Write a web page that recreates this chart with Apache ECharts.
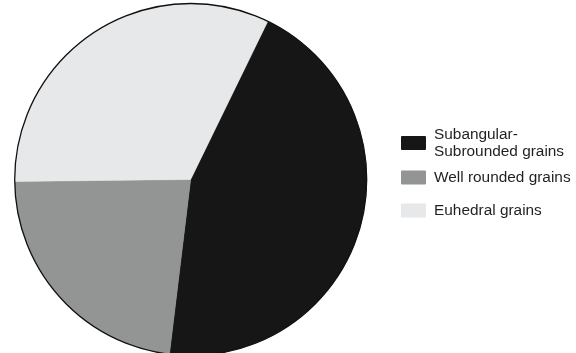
<!DOCTYPE html>
<html>
<head>
<meta charset="utf-8">
<script src="https://cdn.jsdelivr.net/npm/echarts@6/dist/echarts.min.js"></script>
<style>
  html, body { margin: 0; padding: 0; background: #ffffff; }
  #chart { width: 576px; height: 353px; }
</style>
</head>
<body>
<div id="chart"></div>
<script>
// Grain shape composition (percent of grains)
const categories = ['Subangular-\nSubrounded grains', 'Well rounded grains', 'Euhedral grains'];
const shares = [44.7, 22.9, 32.4];
const sliceColors = ['#161616', '#939494', '#e7e8e9'];

const chart = echarts.init(document.getElementById('chart'), null, { renderer: 'canvas' });

const pieCenter = [190.7, 179.5];
const pieRadius = 176;

// one legend block per category so each entry sits at its own height
const legendTops = [126, 169, 202];
const legends = categories.map((name, i) => ({
  data: [name],
  orient: 'vertical',
  left: 401,
  top: legendTops[i],
  padding: 0,
  itemWidth: 23,
  itemHeight: 12,
  icon: 'rect',
  selectedMode: false,
  textStyle: {
    fontFamily: 'Liberation Sans, Arial, sans-serif',
    fontSize: 15.4,
    color: '#231f20',
    lineHeight: 17,
    padding: [0, 0, 0, 4]
  }
}));

chart.setOption({
  animation: false,
  backgroundColor: '#ffffff',
  legend: legends,
  series: [
    {
      type: 'pie',
      center: pieCenter,
      radius: pieRadius,
      startAngle: 64,
      clockwise: true,
      label: { show: false },
      labelLine: { show: false },
      emphasis: { disabled: true },
      itemStyle: { borderWidth: 0.4 },
      data: categories.map((name, i) => ({
        name: name,
        value: shares[i],
        itemStyle: { color: sliceColors[i], borderColor: sliceColors[i] }
      }))
    },
    {
      // thin outline round the whole disc
      type: 'pie',
      center: pieCenter,
      radius: pieRadius,
      silent: true,
      label: { show: false },
      labelLine: { show: false },
      emphasis: { disabled: true },
      itemStyle: { color: 'rgba(0,0,0,0)', borderColor: '#111111', borderWidth: 1.3 },
      data: [{ name: 'outline', value: 1 }]
    }
  ]
});
</script>
</body>
</html>
